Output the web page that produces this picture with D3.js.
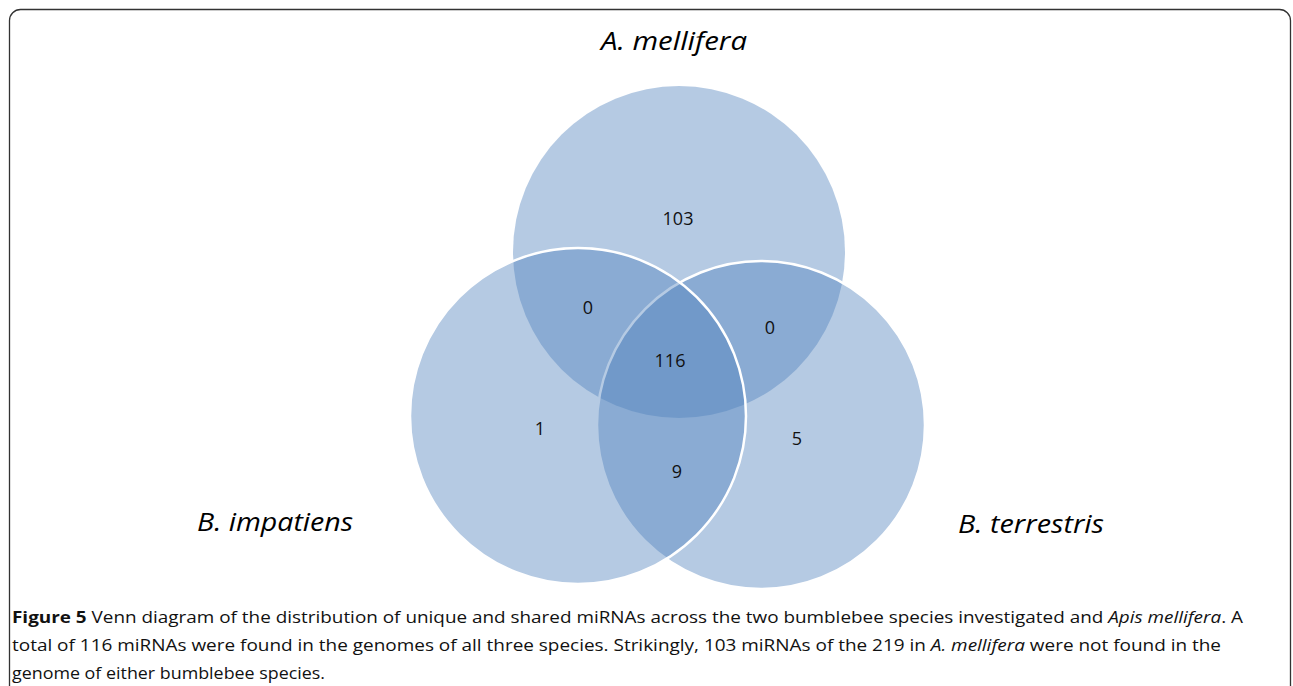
<!DOCTYPE html>
<html>
<head>
<meta charset="utf-8">
<script src="https://cdn.jsdelivr.net/npm/d3@7"></script>
<style>
  html, body { margin: 0; padding: 0; background: #fff; }
  svg { display: block; }
</style>
</head>
<body>
<script>
// ---- data ----
const sets = ["A. mellifera", "B. terrestris", "B. impatiens"];
const regionKeys = ["A", "AI", "AT", "AIT", "I", "T", "IT"];
const regionValues = [103, 0, 0, 116, 1, 5, 9];
const captionBold = "Figure 5";
const captionLines = [
  [" Venn diagram of the distribution of unique and shared miRNAs across the two bumblebee species investigated and ", {i: "Apis mellifera"}, ". A"],
  ["total of 116 miRNAs were found in the genomes of all three species. Strikingly, 103 miRNAs of the 219 in ", {i: "A. mellifera"}, " were not found in the"],
  ["genome of either bumblebee species."]
];

// ---- layout ----
const W = 1293, H = 686;
const svg = d3.select("body").append("svg").attr("width", W).attr("height", H);

// frame
svg.append("rect").attr("x", 9.5).attr("y", 9.5).attr("width", W - 12).attr("height", H + 20)
  .attr("rx", 11).attr("fill", "none").attr("stroke", "#333").attr("stroke-width", 1.3);

// circle geometry mapped through scales
const x = d3.scaleLinear().domain([0, 1]).range([0, 1]);
const y = d3.scaleLinear().domain([0, 1]).range([0, 1]);
const geom = {
  "A. mellifera": {cx: 679, cy: 252, r: 166},
  "B. terrestris": {cx: 761, cy: 425, r: 164},
  "B. impatiens": {cx: 578, cy: 416, r: 168}
};
const stroked = {"A. mellifera": false, "B. terrestris": true, "B. impatiens": true};

svg.append("g").selectAll("circle").data(sets).join("circle")
  .attr("cx", d => x(geom[d].cx)).attr("cy", d => y(geom[d].cy)).attr("r", d => geom[d].r)
  .attr("fill", "#4F81BD").attr("fill-opacity", 0.42)
  .attr("stroke", d => stroked[d] ? "#fff" : "none").attr("stroke-width", 2.5);

// region labels
const regionPos = {
  A: [678, 218], AI: [588, 307], AT: [770, 327], AIT: [670, 360],
  I: [540, 428], T: [797, 438], IT: [677, 471]
};
svg.append("g").selectAll("text").data(regionKeys).join("text")
  .attr("x", d => regionPos[d][0]).attr("y", d => regionPos[d][1] + 6.5)
  .attr("text-anchor", "middle")
  .attr("font-family", "'Open Sans', sans-serif").attr("font-size", 18)
  .attr("fill", "#111")
  .text((d, i) => regionValues[i]);

// set labels
const labelPos = {
  "A. mellifera": [674, 50], "B. impatiens": [275, 531], "B. terrestris": [1031, 533]
};
const labelW = {"A. mellifera": 146, "B. impatiens": 156, "B. terrestris": 146};
svg.append("g").selectAll("text").data(sets).join("text")
  .attr("x", d => labelPos[d][0]).attr("y", d => labelPos[d][1])
  .attr("text-anchor", "middle")
  .attr("font-family", "'Open Sans', sans-serif").attr("font-style", "italic")
  .attr("font-size", 25).attr("fill", "#000")
  .attr("textLength", d => labelW[d]).attr("lengthAdjust", "spacingAndGlyphs")
  .text(d => d);

// caption
const capY = [623, 651, 679];
const capLen = [1231, 1209, 313];
captionLines.forEach((parts, li) => {
  const t = svg.append("text").attr("x", 12).attr("y", capY[li])
    .attr("font-family", "'Open Sans', sans-serif").attr("font-size", 16.5)
    .attr("fill", "#111")
    .attr("textLength", capLen[li]).attr("lengthAdjust", "spacingAndGlyphs");
  if (li === 0) t.append("tspan").attr("font-weight", "bold").text(captionBold);
  parts.forEach(p => {
    if (typeof p === "string") t.append("tspan").text(p);
    else t.append("tspan").attr("font-style", "italic").text(p.i);
  });
});
</script>
</body>
</html>
